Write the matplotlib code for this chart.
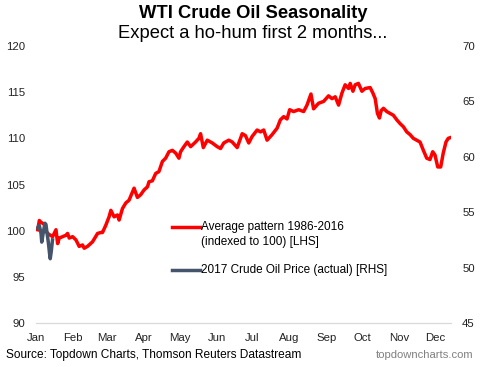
import matplotlib.pyplot as plt

plt.rcParams['font.family'] = ['Liberation Sans', 'DejaVu Sans']

# Average pattern 1986-2016, indexed to 100 (left axis); x = day of year
avg_day = [1.4, 2.8, 4.2, 6.9, 8.3, 10.8, 13.9, 16.7, 18.1, 19.4, 22.3, 25.0, 26.4, 27.8,
           30.6, 33.4, 36.1, 38.9, 40.3, 43.1, 47.3, 51.5, 54.2, 55.6, 58.4, 61.1, 62.6,
           65.3, 68.1, 69.5, 72.3, 75.1, 77.8, 80.7, 82.0, 84.8, 87.6, 90.3, 93.2, 94.5,
           97.3, 100.1, 102.8, 105.7, 108.4, 111.2, 114.0, 116.8, 119.5, 120.9, 123.7,
           126.5, 129.3, 133.4, 136.2, 137.6, 139.9, 143.2, 147.4, 151.5, 154.3, 157.0,
           161.2, 164.1, 168.2, 172.4, 175.1, 177.9, 180.7, 184.9, 187.7, 190.4, 193.2,
           197.4, 201.6, 204.3, 207.1, 209.9, 212.1, 215.4, 219.6, 223.8, 226.6, 229.9,
           232.1, 236.3, 240.5, 244.6, 247.5, 250.2, 253.0, 255.8, 258.5, 261.3, 262.7,
           265.0, 266.9, 269.6, 272.5, 275.2, 279.4, 281.7, 283.6, 285.5, 287.2, 288.6,
           290.5, 293.3, 296.1, 298.8, 301.7, 304.4, 307.2, 310.0, 312.8, 315.5, 318.3,
           321.1, 323.9, 326.7, 329.4, 331.7, 333.6, 335.9, 338.4, 340.5, 342.8, 344.7, 347.0]
avg_val = [100.1, 101.1, 100.9, 100.7, 99.9, 99.6, 99.35, 100.1, 98.6, 99.2, 99.35, 99.5, 99.7, 99.2,
           99.35, 99.0, 98.3, 98.45, 98.1, 98.3, 98.8, 99.7, 99.8, 99.8, 100.6, 101.5, 102.2,
           101.5, 101.7, 101.15, 102.4, 103.0, 103.3, 104.2, 104.6, 103.6, 103.9, 104.4, 104.75, 105.3,
           105.4, 106.2, 106.4, 107.5, 107.85, 108.55, 108.7, 108.4, 107.85, 108.55, 109.1,
           109.6, 109.1, 109.6, 110.0, 110.5, 109.0, 109.8, 109.5, 109.1, 108.9, 109.5,
           109.8, 109.6, 109.0, 110.5, 110.3, 109.5, 110.2, 110.9, 110.7, 110.9, 109.8,
           110.4, 111.1, 112.0, 112.35, 112.1, 113.1, 112.9, 113.1, 112.9, 113.6, 114.8,
           113.2, 113.8, 114.0, 114.6, 114.3, 114.5, 113.6, 114.9, 115.8, 115.4, 115.95,
           115.1, 115.8, 115.95, 115.1, 115.4, 115.5, 114.9, 114.3, 112.7, 112.2, 113.0,
           113.25, 112.9, 112.7, 112.5, 112.0, 111.6, 111.25, 110.7, 110.4, 110.0, 109.8,
           109.6, 108.7, 107.85, 107.7, 108.55, 108.2, 106.9, 106.9, 108.4, 109.6, 110.0, 110.1]

# 2017 WTI crude oil price, actual (right axis)
wti_day = [1.4, 2.8, 4.2, 4.8, 6.3, 7.5, 8.3, 9.4, 10.4, 11.3, 11.9, 12.8, 13.8]
wti_val = [53.6, 53.8, 53.1, 52.3, 53.3, 54.0, 53.9, 53.0, 52.2, 51.3, 50.8, 51.5, 52.5]

month_start = [0, 31, 59, 90, 120, 151, 181, 212, 243, 273, 304, 334]
month_names = ['Jan', 'Feb', 'Mar', 'Apr', 'May', 'Jun', 'Jul', 'Aug', 'Sep', 'Oct', 'Nov', 'Dec']

red = '#ff0000'
slate = '#44546a'

fig = plt.figure(figsize=(4.83, 3.67), dpi=100)
ax = fig.add_axes([36 / 483, 44 / 367, 415 / 483, 277 / 367])
ax2 = ax.twinx()

ax.plot(avg_day, avg_val, color=red, lw=2.5, solid_joinstyle='round')
ax2.plot(wti_day, wti_val, color=slate, lw=2.5, solid_joinstyle='round')

ax.set_xlim(0.8, 347)
ax.set_ylim(90, 120)
ax2.set_ylim(45, 70)
ax.set_yticks(range(90, 121, 5))
ax2.set_yticks(range(45, 71, 5))
ax.set_xticks(month_start)
ax.set_xticklabels(month_names)

for a in (ax, ax2):
    for s in ('top', 'left', 'right'):
        a.spines[s].set_visible(False)
    a.spines['bottom'].set_color('#d9d9d9')
    a.tick_params(length=0, labelsize=8.2, colors='#222222')
ax.tick_params(axis='y', pad=7.5)
ax2.tick_params(axis='y', pad=8)
ax.tick_params(axis='x', pad=7)

# legend drawn by hand: handle sits on the first text line
ax.plot([0.328, 0.395], [0.347, 0.347], color=red, lw=2.5, transform=ax.transAxes)
ax.plot([0.328, 0.395], [0.191, 0.191], color=slate, lw=2.5, transform=ax.transAxes)
ax.text(0.398, 0.347, 'Average pattern 1986-2016', transform=ax.transAxes,
        fontsize=8.5, va='center', ha='left')
ax.text(0.398, 0.292, '(indexed to 100) [LHS]', transform=ax.transAxes,
        fontsize=8.5, va='center', ha='left')
ax.text(0.398, 0.191, '2017 Crude Oil Price (actual) [RHS]', transform=ax.transAxes,
        fontsize=8.5, va='center', ha='left')

fig.text(0.524, 1 - 13 / 367, 'WTI Crude Oil Seasonality', ha='center', va='center',
         fontsize=13.2, fontweight='bold')
fig.text(0.524, 1 - 33 / 367, 'Expect a ho-hum first 2 months...', ha='center', va='center',
         fontsize=13.2)
fig.text(6 / 483, 1 - 355 / 367, 'Source: Topdown Charts, Thomson Reuters Datastream',
         ha='left', va='center', fontsize=8.6)
fig.text(473 / 483, 1 - 355 / 367, 'topdowncharts.com', ha='right', va='center',
         fontsize=8.1, color='#808080')

fig.savefig('out.png', dpi=100)
